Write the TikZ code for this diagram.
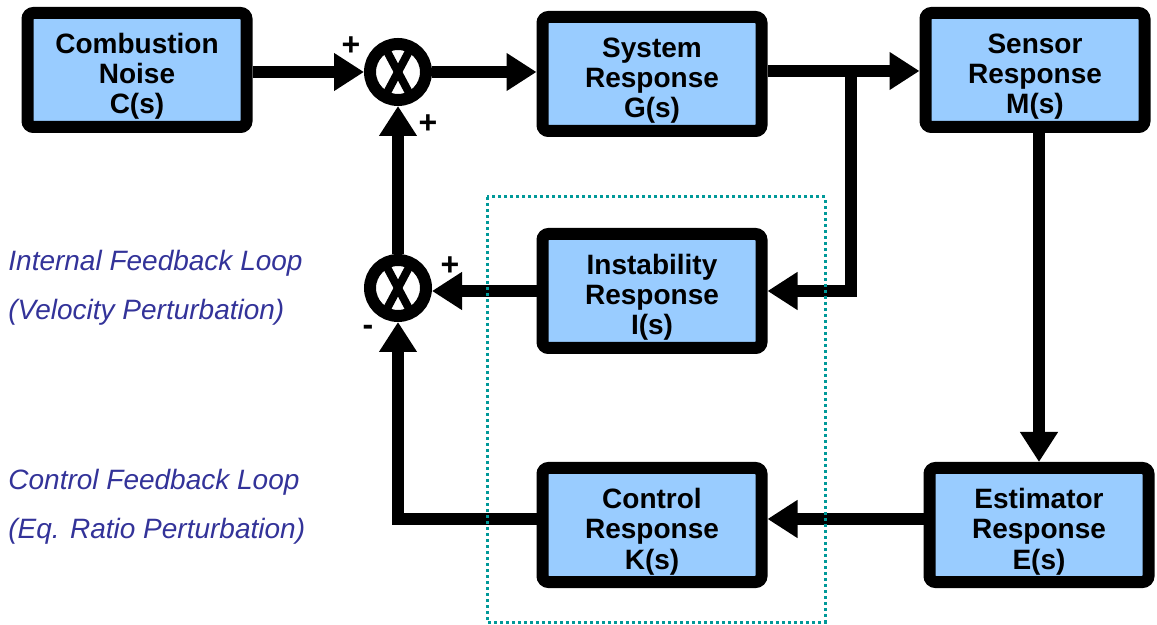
\documentclass[tikz,border=0pt]{standalone}
\usepackage{fontspec}
\setmainfont{Liberation Sans}
\usepackage{tikz}
\usetikzlibrary{arrows.meta}
\usepackage{xcolor}
\definecolor{boxblue}{RGB}{153,204,255}
\definecolor{loopblue}{RGB}{51,51,153}
\definecolor{dotteal}{RGB}{0,153,153}

\begin{document}
\begin{tikzpicture}[x=0.5pt,y=-0.5pt,
    block/.style={draw, fill=boxblue, line width=6pt, rounded corners=3pt,
        minimum width=109.5pt, minimum height=57pt, inner sep=0pt,
        align=center, font=\fontsize{14}{15.2}\selectfont\bfseries,
        text height=46pt, text depth=2pt},
    sumnode/.style={draw, circle, line width=6pt, minimum size=28pt, inner sep=0pt},
    signal/.style={line width=6pt, -{Triangle[length=15pt,width=18pt]}},
    sign/.style={inner sep=0pt, font=\fontsize{16}{16}\selectfont\bfseries},
    looplabel/.style={anchor=west, inner sep=0pt, text=loopblue,
        font=\fontsize{14}{16}\selectfont\itshape}]
    \useasboundingbox (0,0) rectangle (1157,625);

    % Draw blocks
    \node[block] (noise) at (137,70) {Combustion\\Noise\\C(s)};
    \node[block] (plant) at (652,74) {System\\Response\\G(s)};
    \node[block] (sensor) at (1035,70) {Sensor\\Response\\M(s)};
    \node[block] (instab) at (652,291) {Instability\\Response\\I(s)};
    \node[block] (ctrl) at (652,525) {Control\\Response\\K(s)};
    \node[block] (estim) at (1039,525) {Estimator\\Response\\E(s)};

    % Draw summing junctions
    \node[sumnode] (sumtop) at (398,72) {};
    \node[sumnode] (sumlow) at (398,288) {};
    \foreach \s in {sumtop,sumlow} {
        \draw[line width=4pt] ([shift={(62:13pt)}]\s.center) -- ([shift={(242:13pt)}]\s.center);
        \draw[line width=4pt] ([shift={(118:13pt)}]\s.center) -- ([shift={(298:13pt)}]\s.center);
    }

    % Draw signal paths
    \coordinate (split) at (851,71);
    \draw[signal] (noise.east |- sumtop) -- (sumtop.west);
    \draw[signal] (sumtop.east) -- (sumtop.east -| plant.west);
    \draw[signal] (plant.east |- split) -- (split -| sensor.west);
    \draw[signal] (split) |- (instab.east);
    \draw[signal] (sensor.south -| estim.north) -- (estim.north);
    \draw[signal] ([yshift=3pt]estim.west) -- ([yshift=3pt]ctrl.east);
    \draw[signal] ([yshift=3pt]ctrl.west) -| (sumlow.south);
    \draw[signal] (instab.west) -- (instab.west -| sumlow.east);
    \draw[signal] (sumlow.north) -- (sumtop.south);

    % Draw signs
    \node[sign] (ptop) at (351,46) {+};
    \node[sign] (pup) at (428,124) {+};
    \node[sign] (plow) at (450,266) {+};
    \node[sign] (mlow) at (368,330) {-};

    % Draw loop labels
    \foreach \y/\txt in {263/Internal Feedback Loop, 312/(Velocity Perturbation),
                         482/Control Feedback Loop, 531/(Eq. Ratio Perturbation)}
        \node[looplabel] at (8,\y) {\txt};

    % Draw controller boundary
    \draw[dotteal, line width=1.5pt, dash pattern=on 1.5pt off 1.5pt] (487,197) rectangle (825,622);
\end{tikzpicture}
\end{document}
